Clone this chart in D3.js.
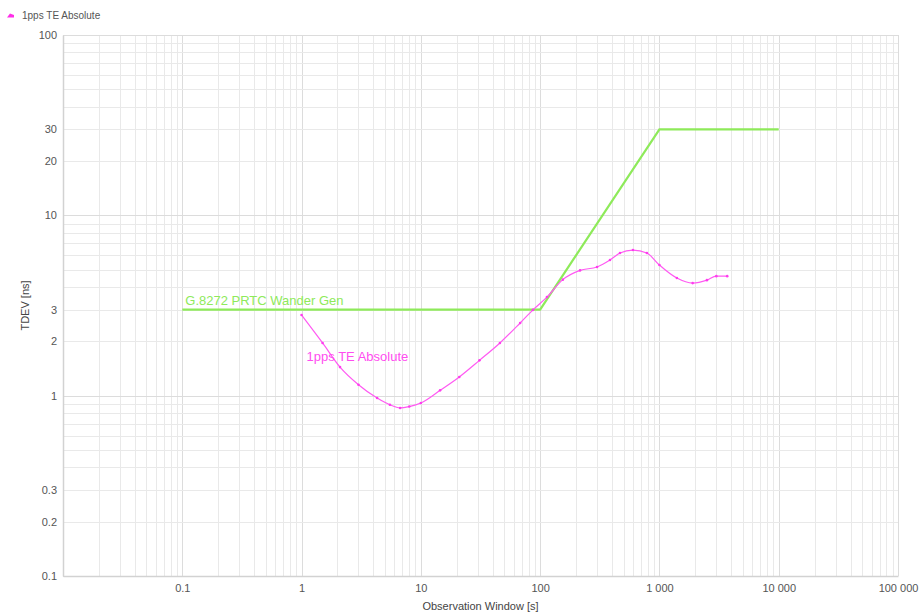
<!DOCTYPE html>
<html>
<head>
<meta charset="utf-8">
<script src="https://cdn.jsdelivr.net/npm/d3@7/dist/d3.min.js"></script>
<style>
  html, body { margin: 0; padding: 0; background: #fff; }
  svg { display: block; font-family: "Liberation Sans", Arial, sans-serif; }
</style>
</head>
<body>
<svg id="chart" width="919" height="614"></svg>
<script>
// Measured TDEV of the 1pps time error (tau in s, TDEV in ns)
const tauValues  = [1, 1.5, 2.1, 3, 4.3, 5.5, 6.7, 8, 10, 14.5, 21, 31, 46, 68, 87, 114, 155, 216, 300, 385, 467, 600, 785, 1000, 1400, 1900, 2500, 3000, 3700];
const tdevValues = [2.8, 1.96, 1.44, 1.15, 0.97, 0.89, 0.855, 0.87, 0.91, 1.07, 1.27, 1.57, 1.96, 2.53, 2.99, 3.52, 4.4, 4.95, 5.17, 5.65, 6.18, 6.42, 6.18, 5.3, 4.49, 4.21, 4.37, 4.6, 4.6];

// G.8272 PRTC wander generation mask
const maskTau  = [0.1, 100, 1000, 10000];
const maskTdev = [3, 3, 30, 30];

// Axis tick values and their labels
const xTicks = [0.1, 1, 10, 100, 1000, 10000, 100000];
const xTickLabels = ["0.1", "1", "10", "100", "1 000", "10 000", "100 000"];
const yTicks = [0.1, 0.2, 0.3, 1, 2, 3, 10, 20, 30, 100];
const yTickLabels = ["0.1", "0.2", "0.3", "1", "2", "3", "10", "20", "30", "100"];

const seriesName = "1pps TE Absolute";
const maskName = "G.8272 PRTC Wander Gen";

const svg = d3.select("#chart");
const plot = { left: 63, right: 898, top: 35, bottom: 576 };

const x = d3.scaleLog().domain([0.01, 100000]).range([plot.left, plot.right]);
const y = d3.scaleLog().domain([0.1, 100]).range([plot.bottom, plot.top]);

// Minor grid: every 1..9 multiple within each decade
function logGrid(domain) {
  const out = [];
  const lo = Math.round(Math.log10(domain[0]));
  const hi = Math.round(Math.log10(domain[1]));
  for (let e = lo; e < hi; e++) {
    for (let m = 1; m < 10; m++) out.push({ v: m * Math.pow(10, e), major: m === 1 });
  }
  out.push({ v: Math.pow(10, hi), major: true });
  return out;
}

const grid = svg.append("g").attr("class", "grid");
grid.selectAll("line.vx").data(logGrid(x.domain())).join("line")
  .attr("class", "vx")
  .attr("x1", d => Math.round(x(d.v)) + 0.5).attr("x2", d => Math.round(x(d.v)) + 0.5)
  .attr("y1", plot.top).attr("y2", plot.bottom)
  .attr("stroke", d => d.major ? "#dcdcdc" : "#e9e9e9").attr("stroke-width", 1);
grid.selectAll("line.hy").data(logGrid(y.domain())).join("line")
  .attr("class", "hy")
  .attr("y1", d => Math.round(y(d.v)) + 0.5).attr("y2", d => Math.round(y(d.v)) + 0.5)
  .attr("x1", plot.left).attr("x2", plot.right)
  .attr("stroke", d => d.major ? "#dcdcdc" : "#e9e9e9").attr("stroke-width", 1);

// Axes
const xAxis = d3.axisBottom(x).tickValues(xTicks).tickSize(0).tickPadding(8)
  .tickFormat((d, i) => xTickLabels[i]);
const yAxis = d3.axisLeft(y).tickValues(yTicks).tickSize(0).tickPadding(6)
  .tickFormat((d, i) => yTickLabels[i]);

const gx = svg.append("g").attr("transform", `translate(0,${plot.bottom})`).call(xAxis);
gx.select(".domain").attr("stroke", "#d2d2d2").attr("stroke-width", 1.5);
gx.selectAll("text").attr("fill", "#555").attr("font-size", 11);

const gy = svg.append("g").attr("transform", `translate(${plot.left},0)`).call(yAxis);
gy.select(".domain").attr("stroke", "#d2d2d2").attr("stroke-width", 1.5);
gy.selectAll("text").attr("fill", "#555").attr("font-size", 11);

// Axis titles
svg.append("text")
  .attr("x", (plot.left + plot.right) / 2).attr("y", 610)
  .attr("text-anchor", "middle").attr("font-size", 11).attr("fill", "#444")
  .text("Observation Window [s]");
svg.append("text")
  .attr("transform", `translate(29,${(plot.top + plot.bottom) / 2}) rotate(-90)`)
  .attr("text-anchor", "middle").attr("font-size", 11).attr("fill", "#444")
  .text("TDEV [ns]");

// Mask line
const maskLine = d3.line().x(d => x(d[0])).y(d => y(d[1]));
svg.append("path")
  .datum(maskTau.map((t, i) => [t, maskTdev[i]]))
  .attr("d", maskLine)
  .attr("fill", "none").attr("stroke", "#8eea5a").attr("stroke-width", 2.2);
svg.append("text")
  .attr("x", x(0.1) + 3).attr("y", y(3) - 5)
  .attr("font-size", 13).attr("fill", "#8eea5a")
  .text(maskName);

// Measured series
const pts = tauValues.map((t, i) => [t, tdevValues[i]]);
const seriesLine = d3.line().x(d => x(d[0])).y(d => y(d[1])).curve(d3.curveMonotoneX);
svg.append("path")
  .datum(pts)
  .attr("d", seriesLine)
  .attr("fill", "none").attr("stroke", "#ff5af2").attr("stroke-width", 1.2);
svg.append("g").selectAll("circle").data(pts).join("circle")
  .attr("cx", d => x(d[0])).attr("cy", d => y(d[1])).attr("r", 1.3)
  .attr("fill", "#ff3cee");
svg.append("text")
  .attr("x", x(1) + 5).attr("y", y(1.75) + 9)
  .attr("font-size", 13).attr("fill", "#ff4cf0")
  .text(seriesName);

// Legend
svg.append("path")
  .attr("d", "M7,17.5 L10,13.5 L14,15 L14,17.5 Z")
  .attr("fill", "#ff2ee8");
svg.append("text")
  .attr("x", 22).attr("y", 19)
  .attr("font-size", 10).attr("fill", "#555")
  .text(seriesName);
</script>
</body>
</html>
